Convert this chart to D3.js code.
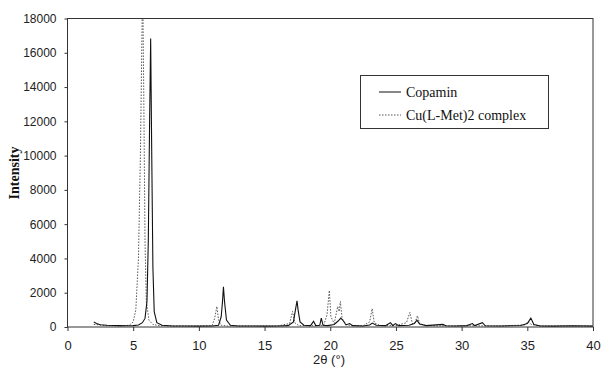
<!DOCTYPE html>
<html>
<head>
<meta charset="utf-8">
<script src="https://cdn.jsdelivr.net/npm/d3@7"></script>
<style>
  body { margin: 0; background: #fff; }
  svg { display: block; }
</style>
</head>
<body>
<div id="chart"></div>
<script>
// readings off the pattern: [2θ, intensity]
var copamin = [
  [2.0,300],[2.2,200],[2.5,130],[3,100],[3.5,90],[4,80],[4.5,70],[5,80],[5.4,120],[5.7,250],
  [5.9,500],[6.05,1500],[6.15,5000],[6.25,12000],[6.33,16830],[6.4,11000],[6.5,3500],[6.6,900],
  [6.8,250],[7.2,100],[8,60],[9,60],[10,50],[11,60],[11.5,100],[11.7,600],[11.8,1500],[11.87,2350],
  [11.95,1500],[12.1,400],[12.4,100],[13,60],[14,60],[15,50],[16,60],[16.8,80],[17.2,300],
  [17.35,1000],[17.47,1530],[17.55,1000],[17.7,300],[18,100],[18.5,80],[18.73,330],[18.9,80],
  [19.2,100],[19.32,520],[19.45,100],[19.8,80],[20.3,150],[20.6,350],[20.8,520],[21.0,350],
  [21.2,120],[21.48,200],[21.7,80],[22.5,60],[23.0,120],[23.2,230],[23.5,100],[24.2,80],
  [24.58,250],[24.75,90],[24.97,200],[25.2,80],[26,100],[26.4,200],[26.6,400],[26.8,180],
  [27.3,80],[28.57,150],[28.8,70],[29.5,60],[30.4,80],[30.82,200],[31.0,80],[31.58,250],
  [31.8,70],[33,60],[34.5,90],[35.0,200],[35.27,520],[35.5,150],[36,60],[37,50],[38.5,70],[40,50]
];
var cuMet = [
  [2,150],[3,80],[4,60],[4.7,100],[5.0,300],[5.2,1000],[5.4,4000],[5.55,10000],[5.65,16000],
  [5.72,20000],[5.8,14000],[5.9,5000],[6.0,1500],[6.2,400],[6.5,150],[7,80],[8,60],[10,60],
  [11,80],[11.2,500],[11.37,1200],[11.5,400],[11.7,100],[12.2,60],[14,60],[16,60],[16.9,200],
  [17.13,910],[17.3,250],[17.6,80],[18.5,70],[19.5,100],[19.75,700],[19.93,2130],[20.05,600],
  [20.3,200],[20.57,1200],[20.68,900],[20.77,1490],[20.9,500],[21.2,150],[21.5,100],[22.5,70],
  [23.0,300],[23.19,1070],[23.35,250],[23.8,80],[25,80],[25.8,250],[26.06,850],[26.25,200],
  [26.45,250],[26.64,660],[26.8,200],[27.3,80],[29,60],[31,70],[33,60],[34.8,120],[35.05,300],
  [35.3,150],[36,60],[38,60],[40,60]
];
var xTicks = [0, 5, 10, 15, 20, 25, 30, 35, 40];
var yTicks = [0, 2000, 4000, 6000, 8000, 10000, 12000, 14000, 16000, 18000];
var seriesNames = ["Copamin", "Cu(L-Met)2 complex"];

var width = 601, height = 372;
var margin = {left: 67.5, right: 8, top: 18.5, bottom: 45};

var svg = d3.select("#chart").append("svg")
  .attr("width", width)
  .attr("height", height);

var x = d3.scaleLinear().domain([0, 40]).range([margin.left, width - margin.right]);
var y = d3.scaleLinear().domain([0, 18000]).range([height - margin.bottom, margin.top]);

svg.append("clipPath").attr("id", "plot")
  .append("rect")
  .attr("x", x(0)).attr("y", y(18000))
  .attr("width", x(40) - x(0)).attr("height", y(0) - y(18000));

var line = d3.line()
  .x(function(d){ return x(d[0]); })
  .y(function(d){ return y(d[1]); });

var g = svg.append("g").attr("clip-path", "url(#plot)");

g.append("path").datum(cuMet)
  .attr("d", line)
  .attr("fill", "none")
  .attr("stroke", "#555")
  .attr("stroke-width", 1)
  .attr("stroke-dasharray", "1.5,1.5");

g.append("path").datum(copamin)
  .attr("d", line)
  .attr("fill", "none")
  .attr("stroke", "#111")
  .attr("stroke-width", 1.1);

// frame
svg.append("rect")
  .attr("x", x(0)).attr("y", y(18000))
  .attr("width", x(40) - x(0)).attr("height", y(0) - y(18000))
  .attr("fill", "none")
  .attr("stroke", "#333")
  .attr("stroke-width", 1);

var xAxis = svg.append("g")
  .attr("transform", "translate(0," + y(0) + ")")
  .call(d3.axisBottom(x).tickValues(xTicks).tickSize(4).tickPadding(10));
var yAxis = svg.append("g")
  .attr("transform", "translate(" + x(0) + ",0)")
  .call(d3.axisLeft(y).tickValues(yTicks).tickFormat(d3.format("d")).tickSize(3).tickPadding(8));

[xAxis, yAxis].forEach(function(a){
  a.select(".domain").remove();
  a.selectAll("line").attr("stroke", "#333");
  a.selectAll("text")
    .attr("fill", "#222")
    .style("font-family", "'Liberation Sans', Arial, sans-serif");
});
xAxis.selectAll("text").style("font-size", "13px");
yAxis.selectAll("text").style("font-size", "12px");

svg.append("text")
  .attr("x", 329).attr("y", 364)
  .attr("text-anchor", "middle")
  .style("font-family", "'Liberation Sans', Arial, sans-serif")
  .style("font-size", "13px")
  .attr("fill", "#222")
  .text("2θ (°)");

svg.append("text")
  .attr("transform", "translate(19,173) rotate(-90)")
  .attr("text-anchor", "middle")
  .style("font-family", "'Liberation Serif', 'Times New Roman', serif")
  .style("font-size", "14px")
  .style("font-weight", "bold")
  .attr("fill", "#111")
  .text("Intensity");

// legend
var legend = svg.append("g");
legend.append("rect")
  .attr("x", 360.5).attr("y", 75.5)
  .attr("width", 188).attr("height", 53)
  .attr("fill", "#fff")
  .attr("stroke", "#333");

var styles = [
  {stroke: "#111", dash: null},
  {stroke: "#555", dash: "1.5,1.5"}
];
seriesNames.forEach(function(name, i){
  var ly = 92 + i * 23;
  legend.append("line")
    .attr("x1", 379).attr("x2", 401)
    .attr("y1", ly).attr("y2", ly)
    .attr("stroke", styles[i].stroke)
    .attr("stroke-dasharray", styles[i].dash);
  legend.append("text")
    .attr("x", 406).attr("y", ly + 4.5)
    .style("font-family", "'Liberation Serif', 'Times New Roman', serif")
    .style("font-size", "14px")
    .attr("fill", "#111")
    .text(name);
});
</script>
</body>
</html>
